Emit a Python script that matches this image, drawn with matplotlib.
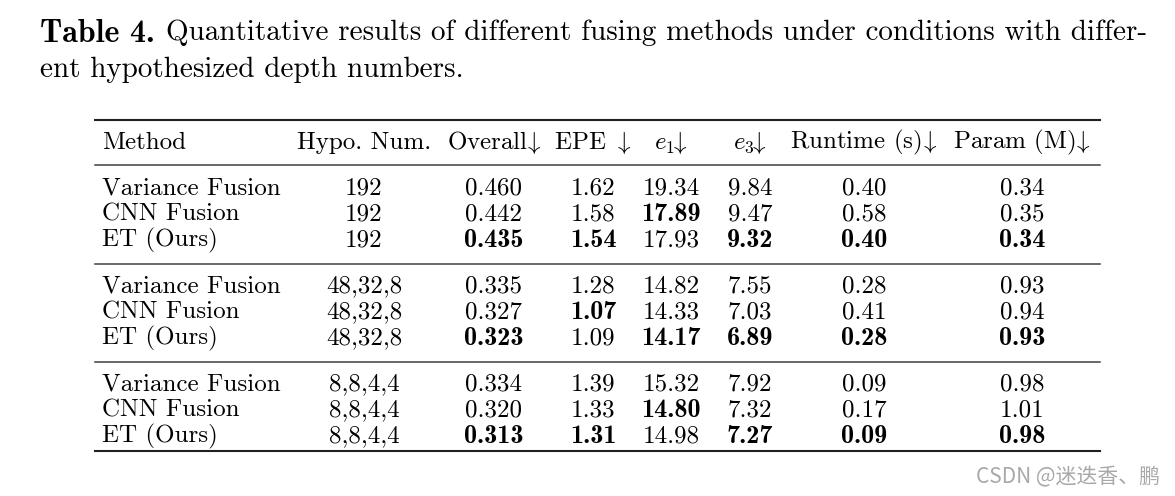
import matplotlib.pyplot as plt

plt.rcParams['mathtext.fontset'] = 'cm'

headers = ["Method", "Hypo. Num.", r"Overall$\!\downarrow$", r"EPE $\downarrow$",
           r"$e_1\!\!\downarrow$", r"$e_3\!\!\downarrow$", r"Runtime (s)$\!\downarrow$", r"Param (M)$\!\downarrow$"]
methods = ["Variance Fusion", "CNN Fusion", "ET (Ours)"]
hypo = ["192", "48,32,8", "8,8,4,4"]

# values per group: rows = methods, cols = Overall, EPE, e1, e3, Runtime, Param
values = [
    [["0.460", "1.62", "19.34", "9.84", "0.40", "0.34"],
     ["0.442", "1.58", "17.89", "9.47", "0.58", "0.35"],
     ["0.435", "1.54", "17.93", "9.32", "0.40", "0.34"]],
    [["0.335", "1.28", "14.82", "7.55", "0.28", "0.93"],
     ["0.327", "1.07", "14.33", "7.03", "0.41", "0.94"],
     ["0.323", "1.09", "14.17", "6.89", "0.28", "0.93"]],
    [["0.334", "1.39", "15.32", "7.92", "0.09", "0.98"],
     ["0.320", "1.33", "14.80", "7.32", "0.17", "1.01"],
     ["0.313", "1.31", "14.98", "7.27", "0.09", "0.98"]],
]
# bold cells (row, col) per group
bold = [
    [(2, 0), (2, 1), (1, 2), (2, 3), (2, 4), (2, 5)],
    [(2, 0), (1, 1), (2, 2), (2, 3), (2, 4), (2, 5)],
    [(2, 0), (2, 1), (1, 2), (2, 3), (2, 4), (2, 5)],
]

fig = plt.figure(figsize=(11.75, 4.96), dpi=100)
ax = fig.add_axes([0, 0, 1, 1])
ax.set_xlim(0, 1175)
ax.set_ylim(496, 0)
ax.axis("off")

fs = 18
fsb = 18.8
col_x = [364, 494, 593, 671, 750, 864, 1022]
dy = 1.5  # small downward nudge for table text

# caption
ax.text(40, 33, "Table 4.", fontsize=23, family="cmb10", va="center")
ax.text(166, 33, "Quantitative results of different fusing methods under conditions with differ-",
        fontsize=21, family="cmr10", va="center")
ax.text(40, 70, "ent hypothesized depth numbers.", fontsize=21, family="cmr10", va="center")

# rules
ax.plot([95, 1100], [120, 120], color="#202020", lw=1.5)
ax.plot([95, 1100], [165, 165], color="#404040", lw=1.1)
for y in [264, 362]:
    ax.plot([95, 1100], [y, y], color="#404040", lw=1.1)
ax.plot([95, 1100], [451, 451], color="#202020", lw=1.5)

# header
ax.text(102, 141 + dy, headers[0], fontsize=fs, family="cmr10", va="center")
for x, h in zip(col_x, headers[1:]):
    ax.text(x, 141 + dy, h, fontsize=fs, family="cmr10", va="center", ha="center")

row_y = [[187, 213, 239], [285, 311, 337], [383, 409, 435]]
for g in range(3):
    for r in range(3):
        y = row_y[g][r] + dy
        ax.text(102, y, methods[r], fontsize=fs, family="cmr10", va="center")
        ax.text(col_x[0], y, hypo[g], fontsize=fs, family="cmr10", va="center", ha="center")
        for c in range(6):
            if (r, c) in bold[g]:
                ax.text(col_x[c + 1], y, values[g][r][c], fontsize=fsb, family="cmb10",
                        va="center", ha="center")
            else:
                ax.text(col_x[c + 1], y, values[g][r][c], fontsize=fs, family="cmr10",
                        va="center", ha="center")

ax.text(1160, 477, "CSDN @迷迭香、鹏", fontsize=15, color="#a8a8a8", ha="right", va="center",
        family=["Noto Sans CJK SC", "DejaVu Sans"])

fig.savefig("out.png", dpi=100)
